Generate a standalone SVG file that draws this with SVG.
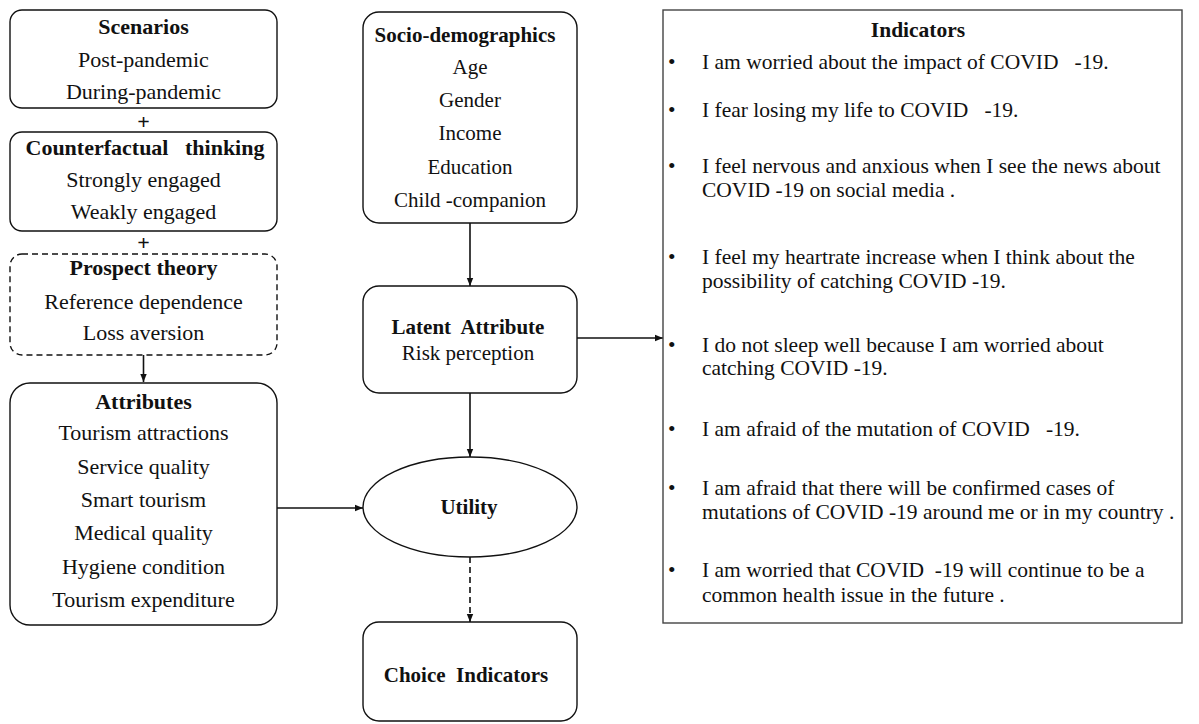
<svg xmlns="http://www.w3.org/2000/svg" width="1199" height="724" viewBox="0 0 1199 724">
<style>
text{font-family:"Liberation Serif","Times New Roman",serif;fill:#111;}
.t{font-size:22px;text-anchor:middle;}
.m{font-size:21px;text-anchor:middle;}
.b{font-weight:bold;}
.i{font-size:21.5px;}
.box{fill:#fff;stroke:#111;stroke-width:1.4;}
.dash{stroke-dasharray:6 4;}
.ln{stroke:#111;stroke-width:1.6;fill:none;}
</style>
<defs>
<marker id="ah" viewBox="0 0 10 10" refX="10" refY="5" markerWidth="8" markerHeight="8" markerUnits="userSpaceOnUse" orient="auto">
<path d="M0,1 L10,5 L0,9 z" fill="#111"/>
</marker>
</defs>
<rect width="1199" height="724" fill="#fff"/>

<g id="connectors">
<line class="ln" x1="143.5" y1="355" x2="143.5" y2="382" marker-end="url(#ah)"/>
<line class="ln" x1="470" y1="223" x2="470" y2="286" marker-end="url(#ah)"/>
<line class="ln" x1="577" y1="338" x2="663" y2="338" marker-end="url(#ah)"/>
<line class="ln" x1="470" y1="393" x2="470" y2="457" marker-end="url(#ah)"/>
<line class="ln" x1="277" y1="508" x2="363" y2="508" marker-end="url(#ah)"/>
<line class="ln dash" x1="470" y1="557" x2="470" y2="622" marker-end="url(#ah)"/>
<text class="t b" x="143.5" y="129">+</text>
<text class="t b" x="143.5" y="250">+</text>
</g>

<g id="scenarios">
<rect class="box" x="10" y="10" width="267" height="98" rx="12"/>
<text class="t b" x="143.5" y="34">Scenarios</text>
<text class="t" x="143.5" y="67">Post-pandemic</text>
<text class="t" x="143.5" y="99">During-pandemic</text>
</g>

<g id="counterfactual">
<rect class="box" x="10" y="132" width="267" height="99" rx="12"/>
<text class="t b" x="145" y="155" xml:space="preserve">Counterfactual   thinking</text>
<text class="t" x="143.5" y="187">Strongly engaged</text>
<text class="t" x="143.5" y="219">Weakly engaged</text>
</g>

<g id="prospect">
<rect class="box dash" x="10" y="254" width="267" height="101" rx="12"/>
<text class="t b" x="143.5" y="275">Prospect theory</text>
<text class="t" x="143.5" y="309">Reference dependence</text>
<text class="t" x="143.5" y="340">Loss aversion</text>
</g>

<g id="attributes">
<rect class="box" x="10" y="383" width="267" height="242" rx="20"/>
<text class="t b" x="143.5" y="409">Attributes</text>
<text class="t" x="143.5" y="440">Tourism attractions</text>
<text class="t" x="143.5" y="474">Service quality</text>
<text class="t" x="143.5" y="507">Smart tourism</text>
<text class="t" x="143.5" y="540">Medical quality</text>
<text class="t" x="143.5" y="574">Hygiene condition</text>
<text class="t" x="143.5" y="607">Tourism expenditure</text>
</g>

<g id="socio">
<rect class="box" x="363" y="12" width="214" height="211" rx="16"/>
<text class="m b" x="465" y="42">Socio-demographics</text>
<text class="m" x="470" y="74">Age</text>
<text class="m" x="470" y="107">Gender</text>
<text class="m" x="470" y="140">Income</text>
<text class="m" x="470" y="174">Education</text>
<text class="m" x="470" y="207">Child -companion</text>
</g>

<g id="latent">
<rect class="box" x="363" y="286" width="214" height="107" rx="16"/>
<text class="m b" x="468" y="334" xml:space="preserve">Latent  Attribute</text>
<text class="m" x="468" y="360">Risk perception</text>
</g>

<g id="utility">
<ellipse class="box" cx="470" cy="507" rx="107" ry="50"/>
<text class="m b" x="469" y="514">Utility</text>
</g>

<g id="choice">
<rect class="box" x="363" y="622" width="214" height="99" rx="16"/>
<text class="m b" x="466" y="682" xml:space="preserve">Choice  Indicators</text>
</g>

<g id="indicators">
<rect x="663" y="10" width="519" height="613" fill="#fff" stroke="#444" stroke-width="1.4"/>
<text class="i b" x="918" y="37" text-anchor="middle">Indicators</text>
<g class="i">
<text x="668" y="69">•</text><text x="702" y="69" xml:space="preserve">I am worried about the impact of COVID   -19.</text>
<text x="668" y="117">•</text><text x="702" y="117" xml:space="preserve">I fear losing my life to COVID   -19.</text>
<text x="668" y="173">•</text><text x="702" y="173">I feel nervous and anxious when I see the news about</text>
<text x="702" y="197">COVID -19 on social media .</text>
<text x="668" y="264">•</text><text x="702" y="264">I feel my heartrate increase when I think about the</text>
<text x="702" y="288">possibility of catching COVID -19.</text>
<text x="668" y="352">•</text><text x="702" y="352">I do not sleep well because I am worried about</text>
<text x="702" y="375">catching COVID -19.</text>
<text x="668" y="436">•</text><text x="702" y="436" xml:space="preserve">I am afraid of the mutation of COVID   -19.</text>
<text x="668" y="495">•</text><text x="702" y="495">I am afraid that there will be confirmed cases of</text>
<text x="702" y="519">mutations of COVID -19 around me or in my country .</text>
<text x="668" y="577">•</text><text x="702" y="577" xml:space="preserve">I am worried that COVID  -19 will continue to be a</text>
<text x="702" y="602">common health issue in the future .</text>
</g>
</g>
</svg>
